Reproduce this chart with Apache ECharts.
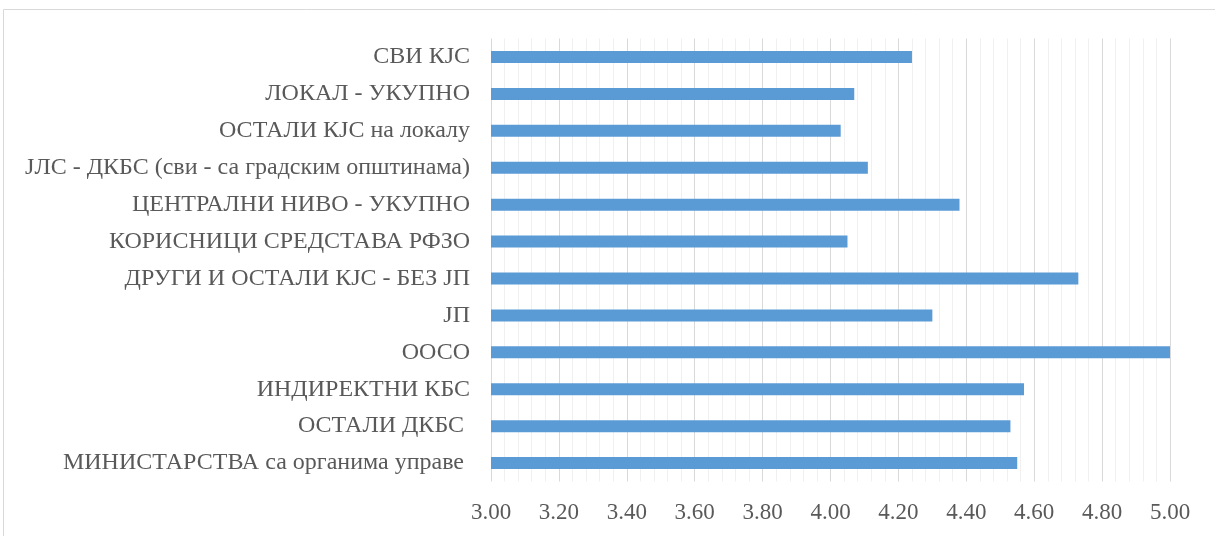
<!DOCTYPE html>
<html>
<head>
<meta charset="utf-8">
<script src="https://cdn.jsdelivr.net/npm/echarts@6/dist/echarts.min.js"></script>
<style>
  html, body { margin: 0; padding: 0; background: #ffffff; }
  #chart { width: 1215px; height: 536px; }
</style>
</head>
<body>
<div id="chart"></div>
<script>
// Categories listed top to bottom
const categories = [
  'СВИ КЈС',
  'ЛОКАЛ - УКУПНО',
  'ОСТАЛИ КЈС на локалу',
  'ЈЛС - ДКБС (сви - са градским општинама)',
  'ЦЕНТРАЛНИ НИВО - УКУПНО',
  'КОРИСНИЦИ СРЕДСТАВА РФЗО',
  'ДРУГИ И ОСТАЛИ КЈС - БЕЗ ЈП',
  'ЈП',
  'ООСО',
  'ИНДИРЕКТНИ КБС',
  'ОСТАЛИ ДКБС ',
  'МИНИСТАРСТВА са органима управе '
];

// Average score per category
const scores = [4.24, 4.07, 4.03, 4.11, 4.38, 4.05, 4.73, 4.30, 5.00, 4.57, 4.53, 4.55];

// Value axis range and tick step
const axisMin = 3.0;
const axisMax = 5.0;
const axisStep = 0.2;

const chart = echarts.init(document.getElementById('chart'), null, { renderer: 'canvas' });

const textColor = '#595959';
const serif = '"Liberation Serif", "Times New Roman", serif';

chart.setOption({
  backgroundColor: '#ffffff',
  animation: false,
  graphic: [{
    type: 'rect',
    shape: { x: 3.5, y: 9.5, width: 1240, height: 560 },
    style: { fill: 'none', stroke: '#d9d9d9', lineWidth: 1 },
    silent: true,
    z: -1
  }],
  grid: {
    left: 491,
    right: 45,
    top: 38.5,
    bottom: 54.5,
    containLabel: false
  },
  xAxis: {
    type: 'value',
    min: axisMin,
    max: axisMax,
    interval: axisStep,
    axisLine: { show: false },
    axisTick: { show: false },
    axisLabel: {
      color: textColor,
      fontFamily: serif,
      fontSize: 23,
      margin: 20,
      formatter: v => v.toFixed(2)
    },
    splitLine: { show: true, lineStyle: { color: '#d9d9d9', width: 1 } },
    minorTick: { show: false, splitNumber: 5 },
    minorSplitLine: { show: true, lineStyle: { color: '#f0f0f0', width: 1 } }
  },
  yAxis: {
    type: 'category',
    data: categories,
    inverse: true,
    axisLine: { show: false },
    axisTick: { show: false },
    splitLine: { show: false },
    axisLabel: {
      color: textColor,
      fontFamily: serif,
      fontSize: 24,
      margin: 21
    }
  },
  series: [{
    type: 'bar',
    data: scores,
    barWidth: 12,
    itemStyle: { color: '#5b9bd5' }
  }]
});
</script>
</body>
</html>
